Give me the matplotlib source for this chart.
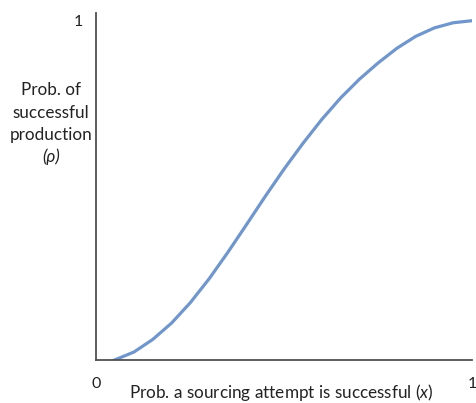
import matplotlib
matplotlib.use('Agg')
import matplotlib.pyplot as plt

# points
x_vals = [0.045, 0.10, 0.15, 0.20, 0.25, 0.30, 0.35, 0.40, 0.45, 0.50,
          0.55, 0.60, 0.65, 0.70, 0.75, 0.80, 0.85, 0.90, 0.95, 1.00]
rho_vals = [0.0, 0.025, 0.062, 0.110, 0.170, 0.240, 0.318, 0.400, 0.483, 0.563,
            0.638, 0.708, 0.771, 0.826, 0.874, 0.917, 0.952, 0.977, 0.992, 0.998]

x_ticks = [0, 1]
x_tick_labels = ['0', '1']
y_ticks = [1]
y_tick_labels = ['1']

plt.rcParams['font.family'] = ['Lato', 'DejaVu Sans']
plt.rcParams['mathtext.fontset'] = 'custom'
plt.rcParams['mathtext.rm'] = 'Lato'
plt.rcParams['mathtext.it'] = 'Lato:italic'

fig = plt.figure(figsize=(4.77, 4.03), dpi=100)
ax = fig.add_axes([0.2023, 0.1055, 0.7872, 0.8622])

ax.plot(x_vals, rho_vals, c='#7096cc', lw=2.3, solid_capstyle='round')

ax.set_xlim(0, 1)
ax.set_ylim(0, 1.0206)
for s in ['top', 'right']:
    ax.spines[s].set_visible(False)
for s in ['left', 'bottom']:
    ax.spines[s].set_color('#505050')
    ax.spines[s].set_linewidth(1.3)

ax.set_xticks(x_ticks)
ax.set_xticklabels(x_tick_labels)
ax.set_yticks(y_ticks)
ax.set_yticklabels(y_tick_labels)
ax.tick_params(length=0, labelsize=11.5, colors='#222222', pad=12)
ax.tick_params(axis='y', pad=10)

# x label (slightly clipped at the bottom, as in the original)
fig.text(281 / 477, 0.012, r'Prob. a sourcing attempt is successful $(x)$',
         ha='center', va='baseline', fontsize=12.3, color='#222222')

# y label, one line at a time
ylab_lines = ['Prob. of', 'successful', 'production']
ylab_pos = [0.778, 0.712, 0.649]
for line, yp in zip(ylab_lines, ylab_pos):
    ax.text(-0.121, yp, line, transform=ax.transAxes, ha='center', va='center',
            fontsize=12.3, color='#222222')
ax.text(-0.121, 0.586, '(ρ)', transform=ax.transAxes, ha='center', va='center',
        fontsize=12.3, style='italic', color='#222222')

plt.savefig('out.png', dpi=100)
